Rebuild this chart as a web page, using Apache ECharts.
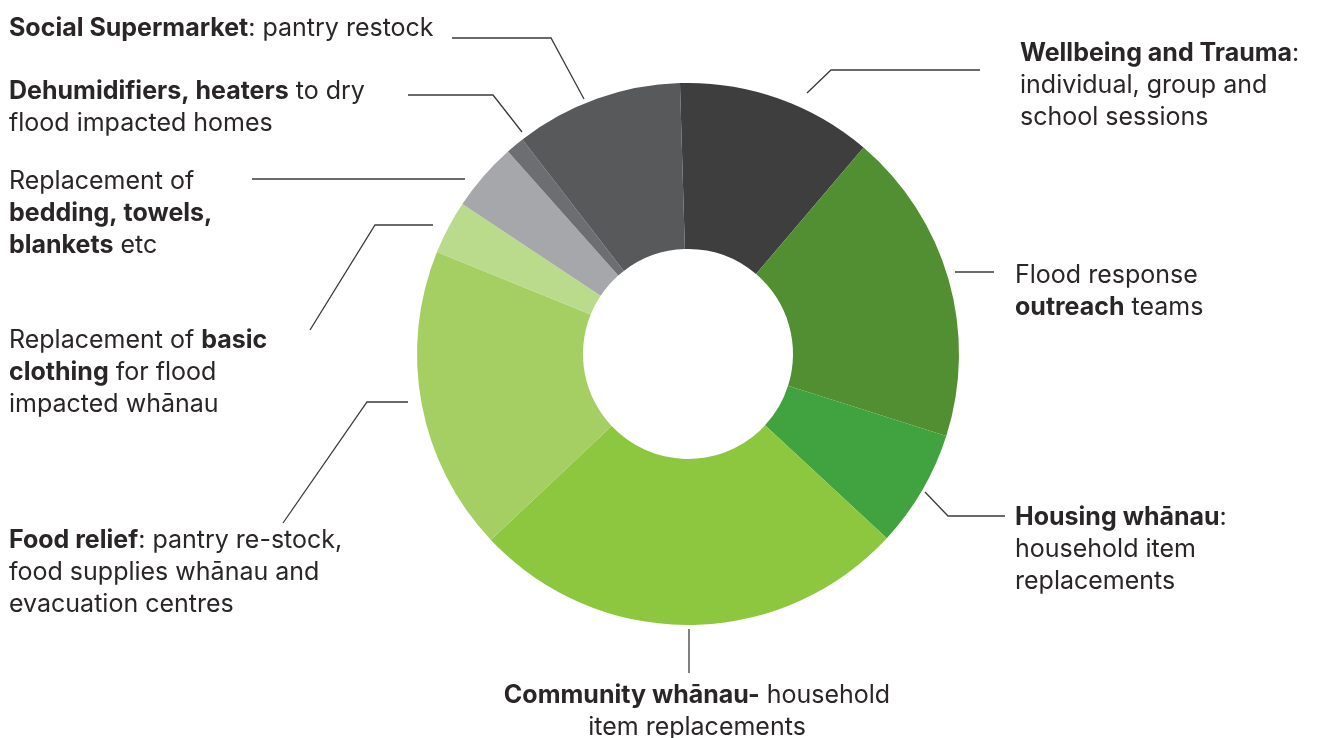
<!DOCTYPE html>
<html>
<head>
<meta charset="utf-8">
<style>
  html, body { margin: 0; padding: 0; background: #ffffff; }
  #chart { width: 1318px; height: 738px; }
</style>
</head>
<body>
<div id="chart"></div>
<script src="https://cdn.jsdelivr.net/npm/echarts@6/dist/echarts.min.js"></script>
<script>
  // slices, clockwise from the top
  var categories = [
    'Wellbeing and Trauma',
    'Flood response outreach teams',
    'Housing whānau',
    'Community whānau',
    'Food relief',
    'Replacement of basic clothing',
    'Replacement of bedding, towels, blankets',
    'Dehumidifiers, heaters',
    'Social Supermarket'
  ];
  var values = [11.7, 18.7, 7.0, 26.1, 18.2, 3.2, 4.1, 1.1, 10.0];
  var labelTexts = [
    '{b|Wellbeing and Trauma}{r|:}\n{r|individual, group and}\n{r|school sessions}',
    '{r|Flood response}\n{b|outreach}{r| teams}',
    '{b|Housing whānau}{r|:}\n{r|household item}\n{r|replacements}',
    '{b|Community whānau-}{r| household}\n{r|item replacements}',
    '{b|Food relief}{r|: pantry re-stock,}\n{r|food supplies whānau and}\n{r|evacuation centres}',
    '{r|Replacement of }{b|basic}\n{b|clothing}{r| for flood}\n{r|impacted whānau}',
    '{r|Replacement of}\n{b|bedding, towels,}\n{b|blankets}{r| etc}',
    '{b|Dehumidifiers, heaters}{r| to dry}\n{r|flood impacted homes}',
    '{b|Social Supermarket}{r|: pantry restock}'
  ];

  var colors = ['#3e3e3e', '#518f32', '#41a33f', '#8dc63f', '#a5cf63', '#badb8c', '#a6a7aa', '#6d6e71', '#58595b'];

  // label box: x, top, align
  var labelPos = [
    [1020, 37, 'left'],
    [1015, 259, 'left'],
    [1015, 501, 'left'],
    [697, 679, 'center'],
    [9, 524, 'left'],
    [9, 324.5, 'left'],
    [9, 165.5, 'left'],
    [9, 75.5, 'left'],
    [9, 12.5, 'left']
  ];
  // leader lines
  var leaders = [
    [[807, 93], [831, 70], [980, 70]],
    [[955, 272], [955, 272], [994, 272]],
    [[925, 492], [948, 516], [1005, 516]],
    [[689, 629], [689, 629], [689, 673]],
    [[283, 523], [367, 402], [408, 402]],
    [[310, 330], [375, 225], [433, 225]],
    [[252, 179], [252, 179], [465, 179]],
    [[522, 132], [493, 95], [408, 95]],
    [[584, 99], [551, 38], [452, 38]]
  ];

  var font = 'Inter, "Noto Sans", sans-serif';
  var txt = '#2a2627';

  var chart = echarts.init(document.getElementById('chart'));

  var data = categories.map(function (name, i) {
    return {
      name: name,
      value: values[i],
      itemStyle: { color: colors[i] },
      label: { formatter: labelTexts[i] }
    };
  });

  chart.setOption({
    animation: false,
    series: [{
      type: 'pie',
      center: [688, 354],
      radius: [105, 271],
      startAngle: 91.7,
      clockwise: true,
      avoidLabelOverlap: false,
      silent: true,
      data: data,
      label: {
        show: true,
        position: 'outside',
        rich: {
          b: { fontFamily: font, fontSize: 25, fontWeight: 'bold', lineHeight: 32, color: txt },
          r: { fontFamily: font, fontSize: 25, fontWeight: 'normal', lineHeight: 32, color: txt }
        }
      },
      labelLine: {
        show: true,
        lineStyle: { color: '#3a3a3a', width: 1.3 }
      },
      labelLayout: function (p) {
        var pos = labelPos[p.dataIndex];
        return {
          x: pos[0],
          y: pos[1],
          align: pos[2],
          verticalAlign: 'top',
          labelLinePoints: leaders[p.dataIndex]
        };
      }
    }]
  });
</script>
</body>
</html>
